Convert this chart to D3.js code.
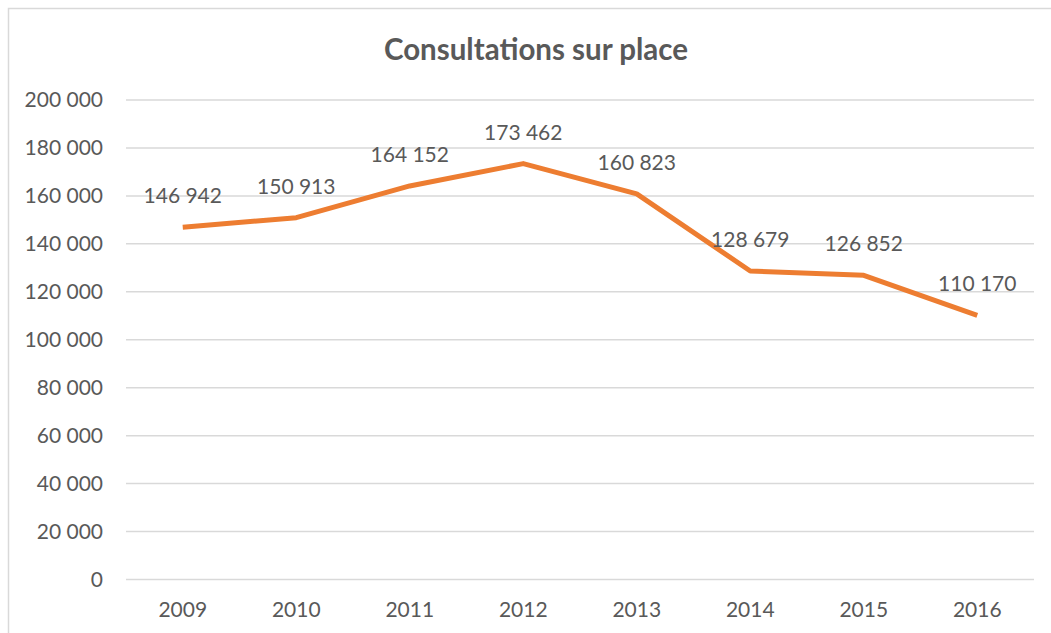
<!DOCTYPE html>
<html>
<head>
<meta charset="utf-8">
<script src="https://d3js.org/d3.v7.min.js"></script>
<style>
  body { margin: 0; background: #fff; }
  text { font-family: Lato, "Open Sans", sans-serif; fill: #595959; }
</style>
</head>
<body>
<svg id="chart" width="1051" height="633"></svg>
<script>
var years = ["2009", "2010", "2011", "2012", "2013", "2014", "2015", "2016"];
var consultations = [146942, 150913, 164152, 173462, 160823, 128679, 126852, 110170];
var yTicks = [0, 20000, 40000, 60000, 80000, 100000, 120000, 140000, 160000, 180000, 200000];

var data = years.map(function(y, i) { return { year: y, value: consultations[i] }; });

var fmt = function(v) { return d3.format(",")(v).replace(/,/g, " "); };

var svg = d3.select("#chart");

// chart border
svg.append("rect")
  .attr("x", 8.5).attr("y", 8.5)
  .attr("width", 1100).attr("height", 700)
  .attr("fill", "none")
  .attr("stroke", "#d9d9d9")
  .attr("stroke-width", 1.5);

svg.append("text")
  .attr("x", 536)
  .attr("y", 60)
  .attr("text-anchor", "middle")
  .attr("font-size", 29.5)
  .attr("font-weight", "bold")
  .text("Consultations sur place");

var x = d3.scaleBand()
  .domain(years)
  .range([126, 1034]);

var y = d3.scaleLinear()
  .domain([0, 200000])
  .range([579.5, 100]);

// gridlines
svg.append("g")
  .selectAll("line")
  .data(yTicks)
  .join("line")
  .attr("x1", 126).attr("x2", 1034)
  .attr("y1", function(d) { return y(d); })
  .attr("y2", function(d) { return y(d); })
  .attr("stroke", "#d9d9d9")
  .attr("stroke-width", 1.5);

// y axis labels
var yAxis = svg.append("g")
  .attr("transform", "translate(126,0)")
  .call(d3.axisLeft(y).tickValues(yTicks).tickFormat(fmt).tickSize(0).tickPadding(23));
yAxis.select(".domain").remove();
yAxis.selectAll("text")
  .attr("font-size", 21)
  .attr("font-family", "Lato, 'Open Sans', sans-serif")
  .attr("fill", "#595959");

// x axis labels
var xAxis = svg.append("g")
  .attr("transform", "translate(0,579.5)")
  .call(d3.axisBottom(x).tickSize(0).tickPadding(23));
xAxis.select(".domain").remove();
xAxis.selectAll("text")
  .attr("font-size", 21)
  .attr("font-family", "Lato, 'Open Sans', sans-serif")
  .attr("fill", "#595959");

var cx = function(d) { return x(d.year) + x.bandwidth() / 2; };

svg.append("path")
  .datum(data)
  .attr("fill", "none")
  .attr("stroke", "#ed7d31")
  .attr("stroke-width", 5)
  .attr("stroke-linejoin", "round")
  .attr("d", d3.line()
    .x(cx)
    .y(function(d) { return y(d.value); }));

// data labels
svg.append("g")
  .selectAll("text")
  .data(data)
  .join("text")
  .attr("x", cx)
  .attr("y", function(d) { return y(d.value) - 24; })
  .attr("text-anchor", "middle")
  .attr("font-size", 21)
  .attr("fill", "#404040")
  .text(function(d) { return fmt(d.value); });
</script>
</body>
</html>
